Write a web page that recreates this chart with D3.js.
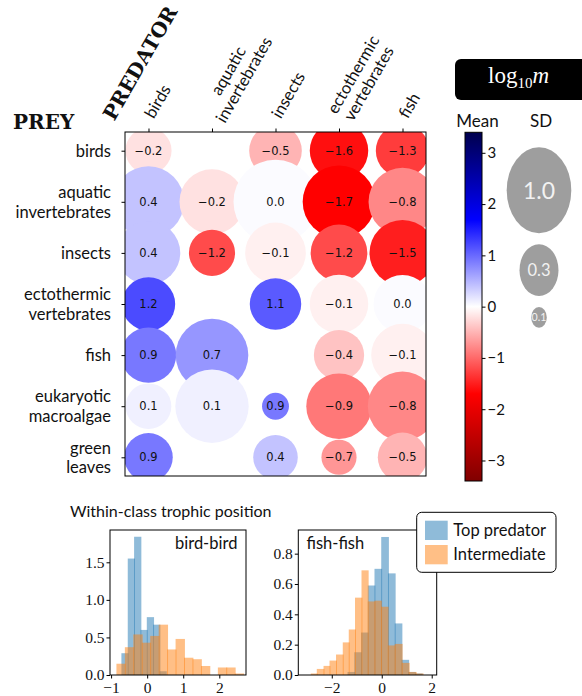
<!DOCTYPE html>
<html>
<head>
<meta charset="utf-8">
<script src="https://cdn.jsdelivr.net/npm/d3@7"></script>
<style>
  body { margin: 0; background: #fff; }
  svg text { font-family: Lato, "Open Sans", sans-serif; fill: #111; }
</style>
</head>
<body>
<svg id="fig" width="582" height="696"></svg>
<script>
// ---------- data ----------
const predators = ["birds", "aquatic\ninvertebrates", "insects", "ectothermic\nvertebrates", "fish"];
const prey = ["birds", "aquatic\ninvertebrates", "insects", "ectothermic\nvertebrates", "fish",
              "eukaryotic\nmacroalgae", "green\nleaves"];

// mean of log10 m, rows = prey, columns = predator (null = no estimate)
const meanLog10m = [
  [-0.2, null, -0.5, -1.6, -1.3],
  [ 0.4, -0.2, 0.03, -1.7, -0.8],
  [ 0.4, -1.2, -0.1, -1.2, -1.5],
  [ 1.2, null,  1.1, -0.1, 0.03],
  [ 0.9,  0.7, null, -0.4, -0.1],
  [ 0.1,  0.1,  0.9, -0.9, -0.8],
  [ 0.9, null,  0.4, -0.7, -0.5]
];
// standard deviation of log10 m
const sdLog10m = [
  [0.42, null, 0.57, 0.75, 0.59],
  [1.35, 1.02, 2.49, 1.46, 1.17],
  [0.95, 0.42, 0.83, 0.69, 1.07],
  [0.59, null, 0.54, 0.75, 0.73],
  [0.65, 1.46, null, 0.51, 0.91],
  [0.41, 1.51, 0.17, 1.04, 1.25],
  [0.47, null, 0.39, 0.25, 0.49]
];
const colorbarTicks = [-3, -2, -1, 0, 1, 2, 3];
const sdLegendValues = [1.0, 0.3, 0.1];

// within-class trophic position histograms (density)
const birdTopEdges   = [-0.714, -0.538, -0.362, -0.186, -0.010, 0.166, 0.342, 0.518];
const birdTopDensity = [0.29, 1.55, 1.84, 0.60, 0.77, 0.67, 0.05];
const birdMidEdges   = [-0.852, -0.618, -0.383, -0.149, 0.085, 0.320, 0.554, 0.788,
                        1.022, 1.257, 1.491, 1.725, 1.960, 2.194, 2.428, 2.663];
const birdMidDensity = [0.15, 0.37, 0.54, 0.43, 0.52, 0.67, 0.34, 0.48, 0.23, 0.21, 0.12, 0, 0.10, 0.10, 0.02];
const fishTopEdges   = [-1.37, -1.10, -0.83, -0.56, -0.29, -0.02, 0.25, 0.52, 0.79, 1.06, 1.33, 1.60];
const fishTopDensity = [0.02, 0.15, 0.28, 0.59, 0.70, 0.91, 0.67, 0.34, 0.10, 0.02, 0.01];
const fishMidEdges   = [-2.84, -2.60, -2.33, -2.09, -1.83, -1.56, -1.32, -1.07, -0.81, -0.56,
                        -0.29, -0.03, 0.24, 0.52, 0.80, 1.08, 1.36, 1.64];
const fishMidDensity = [0.01, 0.04, 0.06, 0.095, 0.135, 0.215, 0.30, 0.51, 0.69, 0.485, 0.49, 0.45,
                        0.195, 0.205, 0.08, 0.02, 0.01];
const histSeries = ["Top predator", "Intermediate"];

// ---------- setup ----------
const svg = d3.select("#fig");
const sans = "Lato, 'Open Sans', sans-serif";
const serif = "'Liberation Serif', 'DejaVu Serif', serif";

// seismic colormap, reversed (positive = blue)
const color = d3.scaleLinear()
  .domain([-3.4, -1.7, 0, 1.7, 3.4])
  .range(["#800000", "#ff0000", "#ffffff", "#0000ff", "#00004d"]);
const rScale = d3.scaleLog().domain([0.1, 1]).range([7.8, 32.3]);

// ---------- matrix of circles ----------
const box = {x0: 125, x1: 426, y0: 132, y1: 476};
const mx = d3.scalePoint().domain(predators).range([box.x0, box.x1]).padding(0.37);
const my = d3.scalePoint().domain(prey).range([box.y0, box.y1]).padding(0.366);

const cells = [];
prey.forEach((p, i) => predators.forEach((q, j) => {
  if (meanLog10m[i][j] !== null) cells.push({prey: p, pred: q, m: meanLog10m[i][j], sd: sdLog10m[i][j]});
}));

svg.append("defs").append("clipPath").attr("id", "mclip")
  .append("rect").attr("x", box.x0).attr("y", box.y0)
  .attr("width", box.x1 - box.x0).attr("height", box.y1 - box.y0);

const gm = svg.append("g").attr("clip-path", "url(#mclip)");
gm.selectAll("circle").data(cells).join("circle")
  .attr("cx", d => mx(d.pred)).attr("cy", d => my(d.prey))
  .attr("r", d => rScale(d.sd))
  .attr("fill", d => color(d.m));

const fmt1 = d3.format(".1f");
svg.append("g").selectAll("text").data(cells).join("text")
  .attr("x", d => mx(d.pred)).attr("y", d => my(d.prey))
  .attr("text-anchor", "middle").attr("dominant-baseline", "central")
  .style("font-family", "'DejaVu Sans', sans-serif").style("font-size", "11.5px")
  .text(d => fmt1(d.m));

// ticks and frame
const axTop = svg.append("g").attr("transform", `translate(0,${box.y0})`)
  .call(d3.axisTop(mx).tickSize(3.5).tickFormat(""));
const axLeft = svg.append("g").attr("transform", `translate(${box.x0},0)`)
  .call(d3.axisLeft(my).tickSize(3.5).tickFormat(""));
[axTop, axLeft].forEach(a => { a.select(".domain").remove(); a.selectAll("line").attr("stroke", "#000"); });
svg.append("rect").attr("x", box.x0).attr("y", box.y0)
  .attr("width", box.x1 - box.x0).attr("height", box.y1 - box.y0)
  .attr("fill", "none").attr("stroke", "#000").attr("stroke-width", 1);

// predator labels (rotated, lines centred)
const lineH = 18;
predators.forEach(name => {
  const lines = name.split("\n");
  const g = svg.append("g").attr("transform", `translate(${mx(name)},116.5) rotate(-60)`);
  const ts = lines.map((ln, i) => g.append("text").text(ln)
    .style("font-size", "16.5px")
    .attr("y", (i - (lines.length - 1) / 2) * lineH)
    .attr("dominant-baseline", "central"));
  const maxW = d3.max(ts, t => t.node().getComputedTextLength());
  ts.forEach(t => t.attr("x", maxW / 2).attr("text-anchor", "middle"));
});

// prey labels
prey.forEach(name => {
  const lines = name.split("\n");
  lines.forEach((ln, i) => svg.append("text").text(ln)
    .attr("x", 111)
    .attr("y", my(name) + (i - (lines.length - 1) / 2) * 19.5 + 6)
    .attr("text-anchor", "end").style("font-size", "16.5px"));
});

svg.append("text").text("PREDATOR")
  .attr("transform", "translate(140,63) rotate(-60)")
  .attr("text-anchor", "middle").attr("dominant-baseline", "central")
  .style("font-family", "'DejaVu Serif', serif").style("font-weight", "bold").style("font-size", "20px");
svg.append("text").text("PREY").attr("x", 13).attr("y", 129)
  .style("font-family", "'DejaVu Serif', serif").style("font-weight", "bold").style("font-size", "20px");

// ---------- log10 m header box ----------
svg.append("rect").attr("x", 455).attr("y", 59).attr("width", 140).attr("height", 41)
  .attr("rx", 6).attr("fill", "#000");
const hdr = svg.append("text").attr("x", 488).attr("y", 83)
  .style("font-family", serif).style("font-size", "23px");
hdr.append("tspan").text("log").style("fill", "#fff");
hdr.append("tspan").text("10").attr("dy", 5).style("font-size", "15px").style("fill", "#fff");
hdr.append("tspan").text("m").attr("dy", -5).style("font-style", "italic").style("fill", "#fff");

// ---------- colorbar ----------
const cb = {x: 465, w: 17, y0: 132.3, y1: 481};
const cbY = d3.scaleLinear().domain([-3.4, 3.4]).range([cb.y1, cb.y0]);
const grad = svg.select("defs").append("linearGradient").attr("id", "cbgrad")
  .attr("x1", 0).attr("y1", 1).attr("x2", 0).attr("y2", 0);
color.domain().forEach(v => grad.append("stop")
  .attr("offset", (v - cbY.domain()[0]) / (cbY.domain()[1] - cbY.domain()[0]))
  .attr("stop-color", color(v)));
svg.append("rect").attr("x", cb.x).attr("y", cb.y0).attr("width", cb.w).attr("height", cb.y1 - cb.y0)
  .attr("fill", "url(#cbgrad)").attr("stroke", "#000").attr("stroke-width", 1);
const cbAx = svg.append("g").attr("transform", `translate(${cb.x + cb.w},0)`)
  .call(d3.axisRight(cbY).tickValues(colorbarTicks).tickSize(3.5).tickPadding(2).tickFormat(d3.format("d")));
cbAx.select(".domain").remove();
cbAx.selectAll("line").attr("stroke", "#000");
cbAx.selectAll("text").style("font-family", sans).style("font-size", "15px").attr("fill", "#111");

svg.append("text").text("Mean").attr("x", 477.5).attr("y", 127).attr("text-anchor", "middle").style("font-size", "17px");
svg.append("text").text("SD").attr("x", 541).attr("y", 127).attr("text-anchor", "middle").style("font-size", "17px");

// ---------- SD size legend ----------
const fsScale = d3.scaleLog().domain([0.1, 1]).range([10.6, 23]);
const aspect = 1.33;
let yCursor = 147.3;
sdLegendValues.forEach(v => {
  const rx = rScale(v), ry = rx * aspect;
  const cy = yCursor + ry;
  svg.append("ellipse").attr("cx", 539).attr("cy", cy).attr("rx", rx).attr("ry", ry).attr("fill", "#9e9e9e");
  svg.append("text").text(fmt1(v)).attr("x", 539).attr("y", cy)
    .attr("text-anchor", "middle").attr("dominant-baseline", "central")
    .style("font-size", fsScale(v) + "px").style("fill", "#f2f2f2");
  yCursor = cy + ry + 11;
});

// ---------- histograms ----------
const histColors = ["#1f77b4", "#ff7f0e"];
function histogram(cfg) {
  const x = d3.scaleLinear().domain(cfg.xDomain).range([cfg.x0, cfg.x1]);
  const y = d3.scaleLinear().domain(cfg.yDomain).range([cfg.y1, cfg.y0]);
  const g = svg.append("g");
  cfg.series.forEach((s, k) => {
    const bins = s.density.map((d, i) => ({a: s.edges[i], b: s.edges[i + 1], d}));
    g.append("g").selectAll("rect").data(bins.filter(b => b.d > 0)).join("rect")
      .attr("x", b => x(b.a)).attr("width", b => x(b.b) - x(b.a) + 0.9)
      .attr("y", b => y(b.d)).attr("height", b => y(0) - y(b.d))
      .attr("fill", histColors[k]).attr("fill-opacity", 0.5);
  });
  const ax = g.append("g").attr("transform", `translate(0,${cfg.y1})`)
    .call(d3.axisBottom(x).tickValues(cfg.xTicks).tickSize(3.5).tickPadding(3).tickFormat(d3.format("d")));
  const ay = g.append("g").attr("transform", `translate(${cfg.x0},0)`)
    .call(d3.axisLeft(y).tickValues(cfg.yTicks).tickSize(3.5).tickPadding(2).tickFormat(d3.format(".1f")));
  [ax, ay].forEach(a => {
    a.select(".domain").remove();
    a.selectAll("line").attr("stroke", "#000");
    a.selectAll("text").style("font-family", serif).style("font-size", "15.5px").attr("fill", "#111");
  });
  g.append("rect").attr("x", cfg.x0).attr("y", cfg.y0).attr("width", cfg.x1 - cfg.x0).attr("height", cfg.y1 - cfg.y0)
    .attr("fill", "none").attr("stroke", "#000").attr("stroke-width", 1);
  g.append("text").text(cfg.label).attr("x", cfg.labelX).attr("y", cfg.y0 + 19).style("font-size", "16.5px");
}

histogram({
  x0: 110, x1: 246, y0: 530, y1: 675,
  xDomain: [-1.03, 2.74], yDomain: [0, 1.93],
  xTicks: [-1, 0, 1, 2], yTicks: [0, 0.5, 1.0, 1.5],
  series: [{edges: birdTopEdges, density: birdTopDensity}, {edges: birdMidEdges, density: birdMidDensity}],
  label: "bird-bird", labelX: 175
});
histogram({
  x0: 298.3, x1: 436.7, y0: 530, y1: 675,
  xDomain: [-3.34, 2.2], yDomain: [0, 0.956],
  xTicks: [-2, 0, 2], yTicks: [0, 0.2, 0.4, 0.6, 0.8],
  series: [{edges: fishTopEdges, density: fishTopDensity}, {edges: fishMidEdges, density: fishMidDensity}],
  label: "fish-fish", labelX: 306.5
});

svg.append("text").text("Within-class trophic position").attr("x", 70).attr("y", 517).style("font-size", "16px");

// legend
const lg = svg.append("g");
lg.append("rect").attr("x", 416.7).attr("y", 512.3).attr("width", 139.3).attr("height", 60)
  .attr("rx", 5).attr("fill", "#fff").attr("stroke", "#000").attr("stroke-width", 1);
histSeries.forEach((name, k) => {
  lg.append("rect").attr("x", 425).attr("y", 520.7 + k * 24.3).attr("width", 22.7).attr("height", 19.3)
    .attr("fill", histColors[k]).attr("fill-opacity", 0.5);
  lg.append("text").text(name).attr("x", 453.3).attr("y", 536 + k * 24.3).style("font-size", "16.5px");
});
</script>
</body>
</html>
